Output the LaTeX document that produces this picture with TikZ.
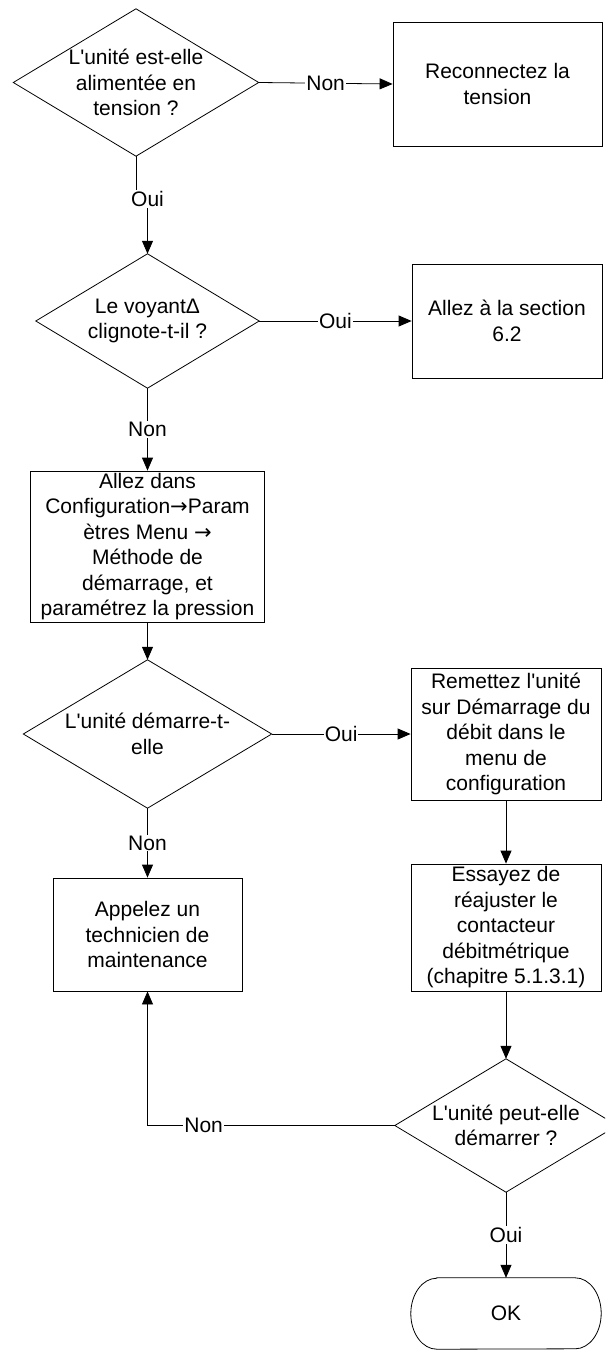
\documentclass[tikz,border=0pt]{standalone}
\usepackage{fontspec}
\setmainfont{Liberation Sans}[Ligatures=TeXOff]
\newfontfamily\arrowfont{DejaVu Sans}
\newcommand{\rarr}{{\arrowfont →}}
\usetikzlibrary{arrows.meta}
\begin{document}
\begin{tikzpicture}[x=1pt,y=1pt,
  every node/.style={font=\fontsize{21pt}{25.5pt}\selectfont},
  box/.style={draw, line width=0.8pt, align=center, inner sep=0pt},
  decision/.style={align=center, inner sep=0pt},
  lbl/.style={fill=white, inner sep=1pt},
  ln/.style={line width=0.8pt},
  arr/.style={line width=0.8pt, -{Triangle[length=13pt,width=11pt]}}]
\useasboundingbox (0,0) rectangle (605,-1351);
\clip (0,0) rectangle (605,-1351);
% nodes
\node[decision, minimum width=245pt, minimum height=147pt] (d1) at (136,-82.5) {L'unité est-elle\\alimentée en\\tension ?};
\node[box, minimum width=209pt, minimum height=124pt] (b1) at (497.5,-84) {Reconnectez la\\tension};
\node[lbl] (oui1) at (147.5,-199) {Oui};
\node[decision, minimum width=223pt, minimum height=134pt] (d2) at (147.5,-321) {Le voyantΔ\\clignote-t-il ?};
\node[box, minimum width=190pt, minimum height=114pt] (b2) at (507,-321) {Allez à la section\\6.2};
\node[box, minimum width=234pt, minimum height=151pt] (b3) at (147.5,-546.5) {Allez dans\\Configuration\rarr Param\\ètres Menu \rarr\\Méthode de\\démarrage, et\\paramétrez la pression};
\node[decision, minimum width=248pt, minimum height=148pt] (d3) at (147.5,-734) {L'unité démarre-t-\\elle};
\node[box, minimum width=190pt, minimum height=132pt] (b4) at (506,-734) {Remettez l'unité\\sur Démarrage du\\débit dans le\\menu de\\configuration};
\node[box, minimum width=189pt, minimum height=113pt] (b5) at (147.5,-934.5) {Appelez un\\technicien de\\maintenance};
\node[box, minimum width=190pt, minimum height=127pt] (b6) at (506,-927.5) {Essayez de\\réajuster le\\contacteur\\débitmétrique\\(chapitre 5.1.3.1)};
\node[decision, minimum width=222pt, minimum height=133pt] (d4) at (506,-1125.5) {L'unité peut-elle\\démarrer ?};
\node[inner sep=0pt, minimum width=190pt, minimum height=71pt] (ok) at (506,-1313.5) {OK};
% diamonds
\foreach \n in {d1,d2,d3,d4}
  \draw[ln] (\n.north) -- (\n.east) -- (\n.south) -- (\n.west) -- cycle;
% terminal
\draw[ln] ([xshift=26pt]ok.north west) -- ([xshift=-26pt]ok.north east)
  arc[start angle=90, end angle=-90, x radius=26pt, y radius=35.5pt]
  -- ([xshift=26pt]ok.south west)
  arc[start angle=270, end angle=90, x radius=26pt, y radius=35.5pt] -- cycle;
% connectors
\draw[arr] (d1.east) -- node[lbl]{Non} (b1.west);
\draw[ln] (d1.south) -- (d1.south |- oui1.north);
\draw[arr] (oui1.south) -- (d2.north);
\draw[arr] (d2.east) -- node[lbl]{Oui} (b2.west);
\draw[arr] (d2.south) -- node[lbl]{Non} (b3.north);
\draw[arr] (b3.south) -- (d3.north);
\draw[arr] (d3.east) -- node[lbl]{Oui} (b4.west);
\draw[arr] (d3.south) -- node[lbl]{Non} (b5.north);
\draw[arr] (b4.south) -- (b6.north);
\draw[arr] (b6.south) -- (d4.north);
\draw[arr] (d4.west) -- node[lbl, pos=0.773]{Non} (b5.south |- d4.west) -- (b5.south);
\draw[arr] (d4.south) -- node[lbl]{Oui} (ok.north);
\end{tikzpicture}
\end{document}
